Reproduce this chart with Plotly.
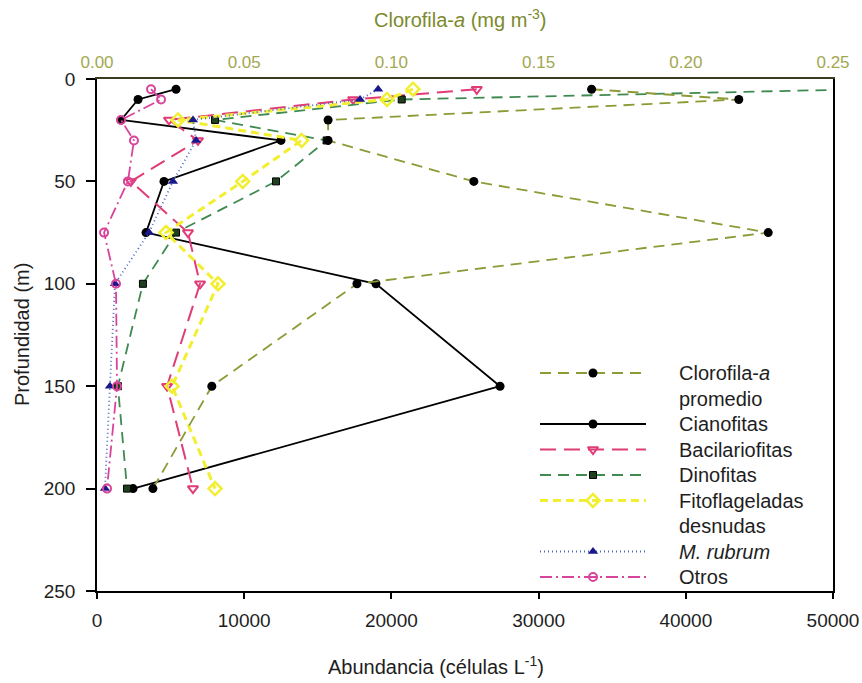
import plotly.graph_objects as go

# Sampling depths (m)
depth = [5, 10, 20, 30, 50, 75, 100, 150, 200]

# Mean chlorophyll-a (mg m-3), top axis
clorofila = [0.168, 0.218, 0.0785, 0.0785, 0.128, 0.228, 0.0883, 0.039, 0.019]

# Abundances (cells L-1), bottom axis
cianofitas = [5370, 2790, 1630, 12500, 4550, 3330, 18950, 27380, 2450]
bacilariofitas = [25800, 17400, 4890, 6860, 2300, 6180, 7000, 4760, 6520]
dinofitas = [52000, 20700, 8020, 15600, 12160, 5370, 3120, 1420, 2040]
fitoflageladas = [21470, 19700, 5500, 13900, 9900, 4690, 8220, 5100, 8020]
m_rubrum = [19100, 17870, 6520, 6730, 5160, 3530, 1220, 880, 540]
otros = [3670, 4350, 1630, 2510, 2100, 480, 1290, 1360, 680]

x_ticks = [0, 10000, 20000, 30000, 40000, 50000]
chl_ticks = [0.00, 0.05, 0.10, 0.15, 0.20, 0.25]
y_ticks = [0, 50, 100, 150, 200, 250]

FONT = "Liberation Sans, Arial, sans-serif"
OLIVE = "#8e9a35"
TXT = "#1e1e1e"

series = [
    dict(name="Clorofila-<i>a</i>", name2="promedio", y=clorofila, axis="x2",
         line=dict(color=OLIVE, width=1.8, dash="11px,7px"),
         marker=dict(symbol="circle", size=9, color="black")),
    dict(name="Cianofitas", y=cianofitas, axis="x",
         line=dict(color="black", width=1.8, dash="solid"),
         marker=dict(symbol="circle", size=9, color="black")),
    dict(name="Bacilariofitas", y=bacilariofitas, axis="x",
         line=dict(color="#e03c78", width=2, dash="16px,8px"),
         marker=dict(symbol="triangle-down-open", size=9, color="#e03c78",
                     line=dict(width=2))),
    dict(name="Dinofitas", y=dinofitas, axis="x",
         line=dict(color="#3f8a50", width=1.8, dash="11px,7px"),
         marker=dict(symbol="square", size=7, color="#1e401e",
                     line=dict(color="black", width=1))),
    dict(name="Fitoflageladas", name2="desnudas", y=fitoflageladas, axis="x",
         line=dict(color="#f2ee30", width=3, dash="8px,5px"),
         marker=dict(symbol="diamond-open", size=10, color="#f2ee30",
                     line=dict(width=2.5))),
    dict(name="<i>M. rubrum</i>", y=m_rubrum, axis="x",
         line=dict(color="#4a68c0", width=1.8, dash="1px,3px"),
         marker=dict(symbol="triangle-up", size=9, color="#18188c")),
    dict(name="Otros", y=otros, axis="x",
         line=dict(color="#d8449c", width=1.8, dash="12px,4px,2px,4px"),
         marker=dict(symbol="circle-open", size=8, color="#d8449c",
                     line=dict(width=2))),
]

fig = go.Figure()

for s in series:
    fig.add_trace(go.Scatter(
        x=s["y"], y=depth, mode="lines+markers",
        xaxis=s["axis"], yaxis="y",
        line=s["line"], marker=s["marker"],
        showlegend=False, cliponaxis=True,
    ))

# Legend drawn on a pixel-unit helper axis laid over the plot area
L, R, T, B = 97, 833, 79, 591
W, H = R - L, B - T
row0, row_h = 373, 25.5
sample_x0, sample_x1, text_x = 540, 646, 677
annotations = []
row = 0
for s in series:
    ly = row0 + row * row_h
    mx = (sample_x0 + sample_x1) / 2
    fig.add_trace(go.Scatter(
        x=[sample_x0, mx, sample_x1], y=[ly, ly, ly], mode="lines",
        xaxis="x3", yaxis="y3", line=s["line"], showlegend=False,
        hoverinfo="skip"))
    fig.add_trace(go.Scatter(
        x=[mx], y=[ly], mode="markers", xaxis="x3", yaxis="y3",
        marker=s["marker"], showlegend=False, hoverinfo="skip"))
    annotations.append(dict(x=text_x, y=ly, xref="x3", yref="y3", text=s["name"],
                            showarrow=False, xanchor="left", yanchor="middle",
                            font=dict(size=20, color=TXT, family=FONT)))
    row += 1
    if "name2" in s:
        annotations.append(dict(x=text_x, y=row0 + row * row_h, xref="x3", yref="y3",
                                text=s["name2"], showarrow=False, xanchor="left",
                                yanchor="middle",
                                font=dict(size=20, color=TXT, family=FONT)))
        row += 1


def px_x(v):
    return (v - L) / W


def px_y(v):
    return (B - v) / H


# Axis titles
annotations += [
    dict(x=px_x(436), y=px_y(665), xref="paper", yref="paper",
         text="Abundancia (células L<sup>-1</sup>)", showarrow=False,
         xanchor="center", yanchor="middle",
         font=dict(size=20, color=TXT, family=FONT)),
    dict(x=px_x(460), y=px_y(18), xref="paper", yref="paper",
         text="Clorofila-<i>a</i> (mg m<sup>-3</sup>)", showarrow=False,
         xanchor="center", yanchor="middle",
         font=dict(size=20, color="#7c8a2c", family=FONT)),
    dict(x=px_x(22), y=px_y(335), xref="paper", yref="paper", text="Profundidad (m)",
         showarrow=False, textangle=-90, xanchor="center", yanchor="middle",
         font=dict(size=20, color=TXT, family=FONT)),
]

fig.update_layout(
    width=862, height=683,
    margin=dict(l=L, r=862 - R, t=T, b=683 - B, autoexpand=False),
    paper_bgcolor="white", plot_bgcolor="white",
    font=dict(family=FONT, size=16, color=TXT),
    xaxis=dict(range=[0, 50000], tickvals=x_ticks, ticktext=[str(v) for v in x_ticks],
               ticks="outside", ticklen=6, automargin=False,
               tickwidth=1.5, tickcolor="black", showline=True, linecolor="black",
               linewidth=1.5, showgrid=False, zeroline=False,
               tickfont=dict(size=19, color=TXT), ticklabelstandoff=5),
    xaxis2=dict(range=[0, 0.25], overlaying="x", side="top", anchor="y",
                tickvals=chl_ticks, ticktext=[f"{v:.2f}" for v in chl_ticks],
                ticks="", showline=True, linecolor="#3a3a20", linewidth=1.5,
                showgrid=False, zeroline=False, automargin=False,
                tickfont=dict(size=17, color="#a2a850"), ticklabelstandoff=2),
    yaxis=dict(range=[250, 0], tickvals=y_ticks, ticks="outside", ticklen=9,
               tickwidth=1.5, tickcolor="black", showline=True, mirror=True,
               linecolor="black", linewidth=1.5, showgrid=False, zeroline=False,
               automargin=False,
               tickfont=dict(size=19, color=TXT), ticklabelstandoff=7),
    xaxis3=dict(range=[L, R], overlaying="x", anchor="y3", visible=False,
                fixedrange=True, automargin=False),
    yaxis3=dict(range=[B, T], overlaying="y", anchor="x3", visible=False,
                fixedrange=True, automargin=False),
    annotations=annotations,
    showlegend=False,
)

fig.write_html("out.html")
